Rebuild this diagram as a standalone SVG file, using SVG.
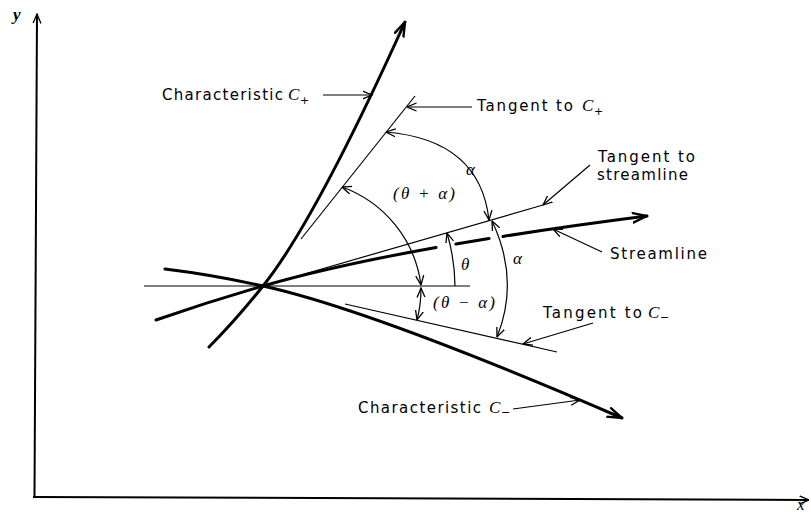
<svg xmlns="http://www.w3.org/2000/svg" width="811" height="515" viewBox="0 0 811 515">
<style>
.thick{fill:none;stroke:#000;stroke-width:3;stroke-linecap:round}
.thin{fill:none;stroke:#000;stroke-width:1.2}
.axis{fill:none;stroke:#000;stroke-width:2}
.lbl{font-family:"DejaVu Sans","Liberation Sans",sans-serif;font-size:15px;fill:#000}
.it{font-family:"Liberation Serif","DejaVu Serif",serif;font-style:italic;font-size:17px;fill:#000}
.sub{font-family:"DejaVu Sans","Liberation Sans",sans-serif;font-size:11px;fill:#000}
</style>
<defs>
<marker id="ah" viewBox="0 0 10 10" refX="9.5" refY="5" markerWidth="10" markerHeight="10" markerUnits="userSpaceOnUse" orient="auto-start-reverse">
<path d="M0,1 L9.5,5 L0,9" fill="none" stroke="#000" stroke-width="1.3"/>
</marker>
<marker id="bh" viewBox="0 0 16 12" refX="15" refY="6" markerWidth="16" markerHeight="12" markerUnits="userSpaceOnUse" orient="auto">
<path d="M0,1 L15,6 L0,11" fill="none" stroke="#000" stroke-width="2.4"/>
</marker>
</defs>
<rect width="811" height="515" fill="#fff"/>

<g id="axes">
<line class="axis" x1="34.5" y1="497" x2="37" y2="14" marker-end="url(#ah)"/>
<line class="axis" x1="33" y1="497" x2="809" y2="500" marker-end="url(#ah)"/>
<text class="it" x="13" y="20" font-weight="bold">y</text>
<text class="it" x="797" y="510" font-size="13">x</text>
</g>

<g id="reference-lines">
<line class="thin" x1="144" y1="286" x2="470" y2="286"/>
<line id="tangent-cplus" class="thin" x1="301" y1="239" x2="415" y2="96"/>
<line id="tangent-streamline" class="thin" x1="263" y1="286" x2="543" y2="205"/>
<line id="tangent-cminus" class="thin" x1="345" y1="304" x2="557" y2="352"/>
</g>

<g id="characteristic-cplus">
<path class="thick" d="M209,347 Q236,320 263,286 Q315,221 405,22" marker-end="url(#bh)"/>
</g>
<g id="characteristic-cminus">
<path class="thick" d="M165,269 Q214,275 263,286 Q372,310 622,418" marker-end="url(#bh)"/>
</g>
<g id="streamline">
<path class="thick" d="M156,320 Q210,301.3 263,286 Q332,266 436,247.5"/>
<path class="thick" d="M456,244 L489,238.6"/>
<path class="thick" d="M503,236.4 Q569,225.9 647,216" marker-end="url(#bh)"/>
</g>

<g id="angle-arcs">
<path class="thin" d="M386,132 Q480,140 489,220" marker-start="url(#ah)" marker-end="url(#ah)"/>
<path class="thin" d="M342,187 A121,121 0 0 1 421,285" marker-start="url(#ah)" marker-end="url(#ah)"/>
<path class="thin" d="M421,288 A121,121 0 0 1 417,320" marker-start="url(#ah)" marker-end="url(#ah)"/>
<path class="thin" d="M455,286 A192,192 0 0 0 447,233" marker-end="url(#ah)"/>
<path class="thin" d="M492,221 Q520,280 497,337" marker-start="url(#ah)" marker-end="url(#ah)"/>
</g>

<g id="angle-labels">
<text class="it" x="466" y="175">α</text>
<text class="it" x="393" y="199" textLength="62" lengthAdjust="spacing">(θ + α)</text>
<text class="it" x="461" y="270">θ</text>
<text class="it" x="513" y="264">α</text>
<text class="it" x="433" y="308" textLength="62" lengthAdjust="spacing">(θ − α)</text>
</g>

<g id="label-char-cplus">
<text class="lbl" x="162" y="100" textLength="121" lengthAdjust="spacing">Characteristic</text>
<text class="it" x="288" y="100">C</text>
<text class="sub" x="300" y="104">+</text>
</g>
<g id="label-tangent-cplus">
<text class="lbl" x="477" y="111" textLength="96" lengthAdjust="spacing">Tangent to</text>
<text class="it" x="582" y="111">C</text>
<text class="sub" x="594" y="115">+</text>
</g>
<g id="label-tangent-streamline">
<text class="lbl" x="598" y="162" textLength="97" lengthAdjust="spacing" font-size="14.5">Tangent to</text>
<text class="lbl" x="597" y="180" textLength="91" lengthAdjust="spacing" font-size="14.5">streamline</text>
</g>
<g id="label-streamline">
<text class="lbl" x="610" y="259" textLength="97" lengthAdjust="spacing">Streamline</text>
</g>
<g id="label-tangent-cminus">
<text class="lbl" x="543" y="318" textLength="99" lengthAdjust="spacing">Tangent to</text>
<text class="it" x="648" y="318">C</text>
<text class="sub" x="660" y="321">−</text>
</g>
<g id="label-char-cminus">
<text class="lbl" x="358" y="413" textLength="123" lengthAdjust="spacing">Characteristic</text>
<text class="it" x="489" y="413">C</text>
<text class="sub" x="501" y="416">−</text>
</g>

<g id="connectors">
<line class="thin" x1="323" y1="95" x2="372" y2="95" marker-end="url(#ah)"/>
<line class="thin" x1="472" y1="107" x2="407" y2="107" marker-end="url(#ah)"/>
<line class="thin" x1="590" y1="165" x2="543" y2="205" marker-end="url(#ah)"/>
<line class="thin" x1="602" y1="252" x2="553" y2="229" marker-end="url(#ah)"/>
<line class="thin" x1="593" y1="323" x2="523" y2="344" marker-end="url(#ah)"/>
<line class="thin" x1="513" y1="409" x2="580" y2="400" marker-end="url(#ah)"/>
</g>
</svg>
